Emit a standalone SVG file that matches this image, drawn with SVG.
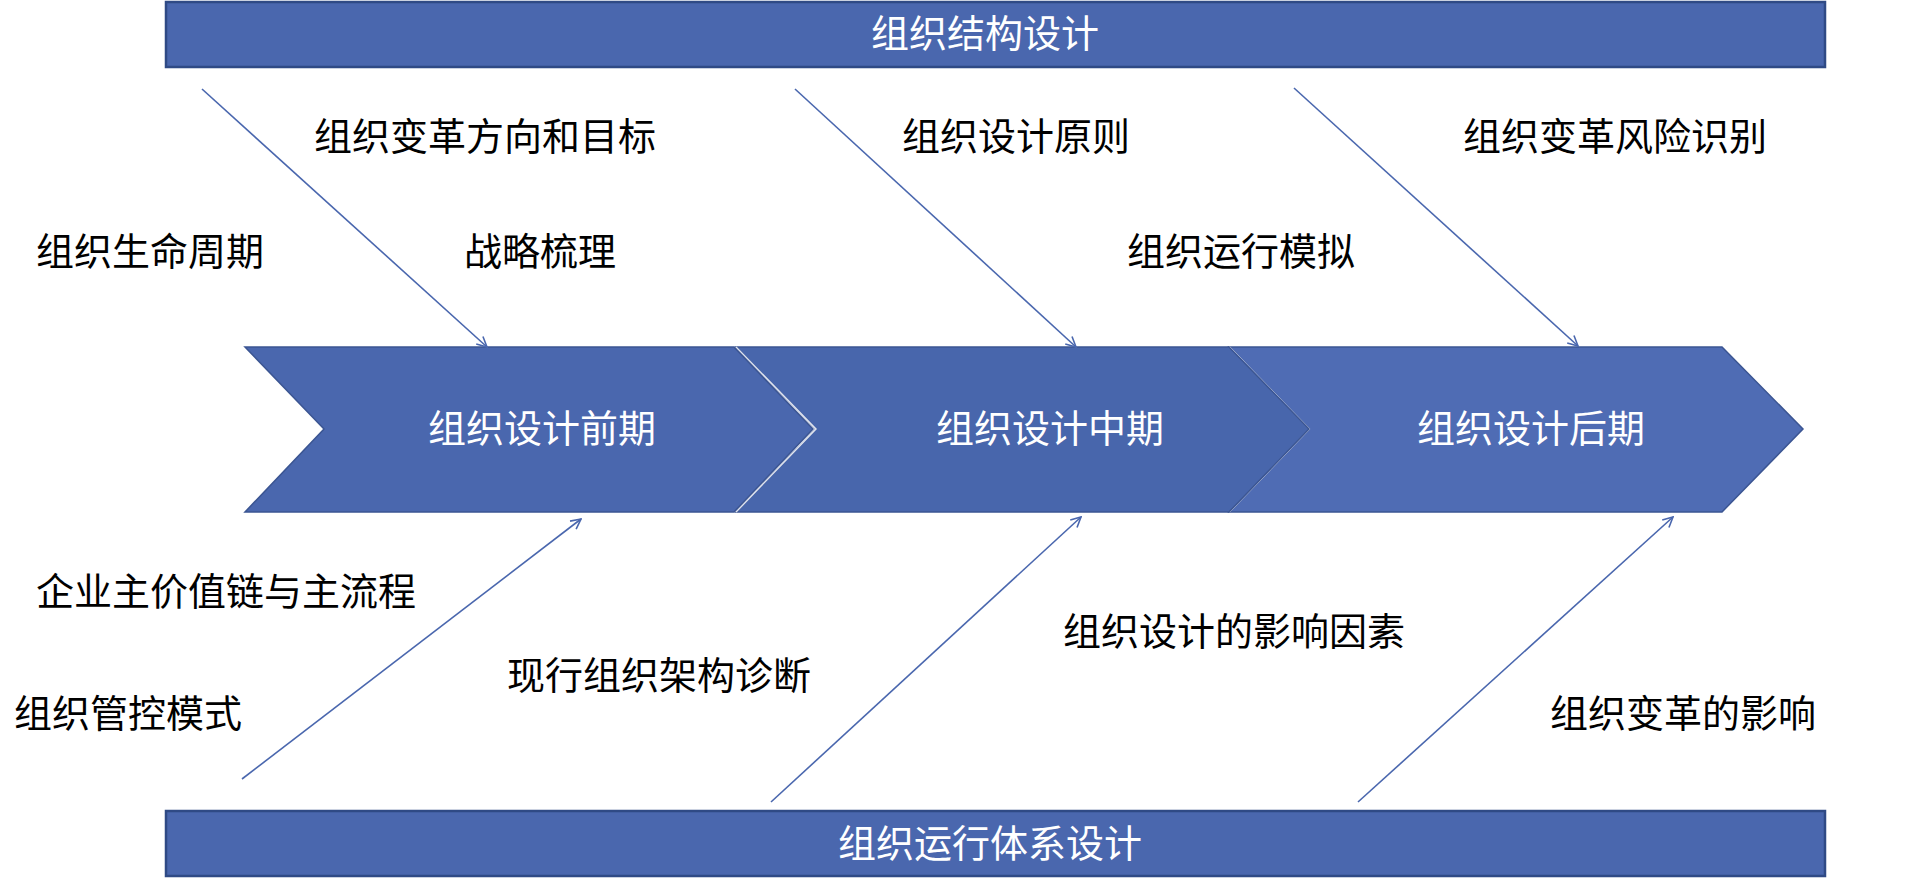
<svg xmlns="http://www.w3.org/2000/svg" width="1918" height="878" viewBox="0 0 1918 878">
<style>
.bar{fill:#4A67AE;stroke:#2F4A85;stroke-width:2.5}
.chev{stroke:#3B5592;stroke-width:1.5}
.lbl{font-family:"Noto Sans CJK SC","Noto Sans",sans-serif;font-size:38px;fill:#000}
.wt{font-family:"Noto Sans CJK SC","Noto Sans",sans-serif;font-size:38px;fill:#fff;text-anchor:middle}
.con{stroke:#4A67AE;stroke-width:1.6;fill:none;marker-end:url(#ah)}
</style>
<defs>
<marker id="ah" viewBox="0 0 12 12" refX="11" refY="6" markerWidth="12" markerHeight="12" markerUnits="userSpaceOnUse" orient="auto">
<path d="M1,1 L11,6 L1,11" fill="none" stroke="#4A67AE" stroke-width="1.6"/>
</marker>
</defs>
<rect width="1918" height="878" fill="#fff"/>
<g id="top-bar">
<rect class="bar" x="166" y="2" width="1659" height="65"/>
<text class="wt" x="985" y="47">组织结构设计</text>
</g>
<g id="bottom-bar">
<rect class="bar" x="166" y="811" width="1659" height="65"/>
<text class="wt" x="990" y="857">组织运行体系设计</text>
</g>
<g id="chevron-3">
<polygon class="chev" fill="#4F6CB4" points="1229,347 1722,347 1803,429 1722,512 1229,512 1309,429"/>
<polyline points="1229,347 1309,429 1229,512" fill="none" stroke="#fff" stroke-width="1.8"/>
<text class="wt" x="1531" y="442">组织设计后期</text>
</g>
<g id="chevron-2">
<polygon class="chev" fill="#4866AC" points="736,347 1229,347 1309,429 1229,512 736,512 816,429"/>
<polyline points="736,347 816,429 736,512" fill="none" stroke="#dfe3ee" stroke-width="1.5"/>
<text class="wt" x="1050" y="442">组织设计中期</text>
</g>
<g id="chevron-1">
<polygon class="chev" fill="#4A67AE" points="245,347 734,347 813,429 734,512 245,512 324,429"/>
<text class="wt" x="542" y="442">组织设计前期</text>
</g>
<g id="connectors">
<line class="con" x1="202" y1="89" x2="487" y2="347"/>
<line class="con" x1="795" y1="89" x2="1076" y2="347"/>
<line class="con" x1="1294" y1="88" x2="1578" y2="346"/>
<line class="con" x1="242" y1="779" x2="581" y2="519"/>
<line class="con" x1="771" y1="802" x2="1081" y2="517"/>
<line class="con" x1="1358" y1="802" x2="1673" y2="517"/>
</g>
<g id="labels">
<text class="lbl" x="314" y="150">组织变革方向和目标</text>
<text class="lbl" x="464" y="265">战略梳理</text>
<text class="lbl" x="36" y="265">组织生命周期</text>
<text class="lbl" x="902" y="150">组织设计原则</text>
<text class="lbl" x="1127" y="265">组织运行模拟</text>
<text class="lbl" x="1463" y="150">组织变革风险识别</text>
<text class="lbl" x="36" y="605">企业主价值链与主流程</text>
<text class="lbl" x="14" y="727">组织管控模式</text>
<text class="lbl" x="507" y="689">现行组织架构诊断</text>
<text class="lbl" x="1063" y="645">组织设计的影响因素</text>
<text class="lbl" x="1550" y="727">组织变革的影响</text>
</g>
</svg>
